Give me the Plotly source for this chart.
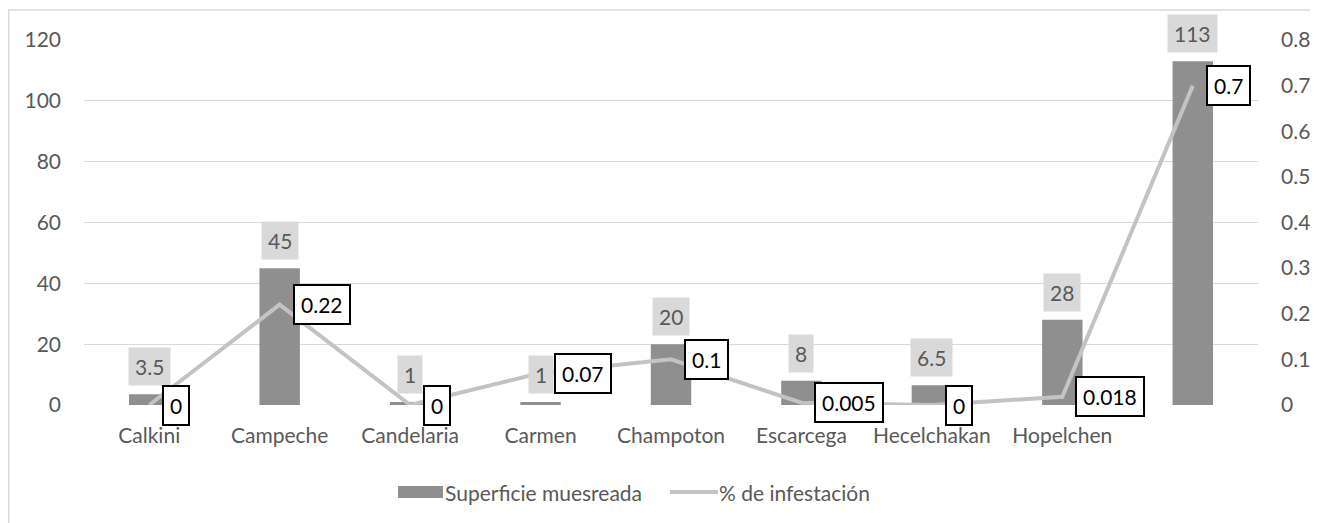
import plotly.graph_objects as go

categories = ["Calkini", "Campeche", "Candelaria", "Carmen", "Champoton",
              "Escarcega", "Hecelchakan", "Hopelchen", ""]
superficie = [3.5, 45, 1, 1, 20, 8, 6.5, 28, 113]
infestacion = [0, 0.22, 0, 0.07, 0.1, 0.005, 0, 0.018, 0.7]
left_ticks = [0, 20, 40, 60, 80, 100, 120]
right_ticks = [0, 0.1, 0.2, 0.3, 0.4, 0.5, 0.6, 0.7, 0.8]
series_names = ["Superficie muesreada", "% de infestación"]

FONT = "Lato"
FS = 21
TXT = "#595959"
BAR_COLOR = "#8f8f8f"
LINE_COLOR = "#c3c3c3"
xs = list(range(len(categories)))

# figure is placed at (8, 8) in the page by the default body margin
W, H = 1310, 515
L, R, T, B = 76, 60, 32, 118
PW, PH = W - L - R, H - T - B


def px(xp):
    return (xp - L) / PW


def py(yp):
    return 1 - (yp - T) / PH


fig = go.Figure()
fig.add_trace(go.Bar(x=xs, y=superficie, name=series_names[0],
                     marker=dict(color=BAR_COLOR, line=dict(width=0)),
                     yaxis="y", showlegend=False))
fig.add_trace(go.Scatter(x=xs, y=infestacion, name=series_names[1],
                         mode="lines", line=dict(color=LINE_COLOR, width=4),
                         yaxis="y2", showlegend=False))

annotations = []
for x, v in zip(xs, superficie):
    annotations.append(dict(x=x, y=v, xref="x", yref="y", text=f"{v:g}",
                            showarrow=False, yanchor="bottom", yshift=8,
                            bgcolor="#d9d9d9", borderpad=6,
                            font=dict(family=FONT, size=FS, color=TXT)))
for x, v in zip(xs, infestacion):
    annotations.append(dict(x=x, y=v, xref="x", yref="y2", text=f"{v:g}",
                            showarrow=False, xanchor="left", yanchor="middle",
                            xshift=13,
                            bgcolor="white", bordercolor="black",
                            borderwidth=2, borderpad=6,
                            font=dict(family=FONT, size=FS, color="black")))

# custom legend (wide swatches like the reference)
leg_y = 484  # page y of legend centre minus 8
annotations.append(dict(x=px(439 - 8 + 4), y=py(leg_y), xref="paper", yref="paper",
                        text=series_names[0], showarrow=False, xanchor="left",
                        yanchor="middle",
                        font=dict(family=FONT, size=FS, color=TXT)))
annotations.append(dict(x=px(713 - 8 + 4), y=py(leg_y), xref="paper", yref="paper",
                        text=series_names[1], showarrow=False, xanchor="left",
                        yanchor="middle",
                        font=dict(family=FONT, size=FS, color=TXT)))

shapes = [
    dict(type="rect", xref="paper", yref="paper",
         x0=px(0.75), x1=1.2, y0=-0.6, y1=py(2),
         line=dict(color="#d9d9d9", width=1.5), layer="below"),
    dict(type="rect", xref="paper", yref="paper",
         x0=px(398 - 8), x1=px(443 - 8), y0=py(leg_y - 6), y1=py(leg_y + 6),
         fillcolor=BAR_COLOR, line=dict(width=0)),
    dict(type="line", xref="paper", yref="paper",
         x0=px(670 - 8), x1=px(718 - 8), y0=py(leg_y), y1=py(leg_y),
         line=dict(color=LINE_COLOR, width=4)),
]

fig.update_layout(
    width=W, height=H,
    margin=dict(l=L, r=R, t=T, b=B, autoexpand=False),
    paper_bgcolor="white", plot_bgcolor="white",
    font=dict(family=FONT, size=FS, color=TXT),
    bargap=0.69,
    showlegend=False,
    xaxis=dict(tickvals=xs, ticktext=categories, range=[-0.5, 8.5],
               showgrid=False, showline=False, ticks="", zeroline=False,
               ticklabelstandoff=16,
               tickfont=dict(family=FONT, size=FS, color=TXT)),
    yaxis=dict(range=[0, 120], tickvals=left_ticks, showgrid=True,
               gridcolor="#d9d9d9", gridwidth=1, zeroline=False,
               ticks="", ticklabelstandoff=22,
               tickfont=dict(family=FONT, size=FS, color=TXT)),
    yaxis2=dict(range=[0, 0.8], tickvals=right_ticks, overlaying="y",
                side="right", showgrid=False, zeroline=False, ticks="",
                ticklabelstandoff=22,
                tickfont=dict(family=FONT, size=FS, color=TXT)),
    annotations=annotations,
    shapes=shapes,
)

fig.write_html("out.html")
